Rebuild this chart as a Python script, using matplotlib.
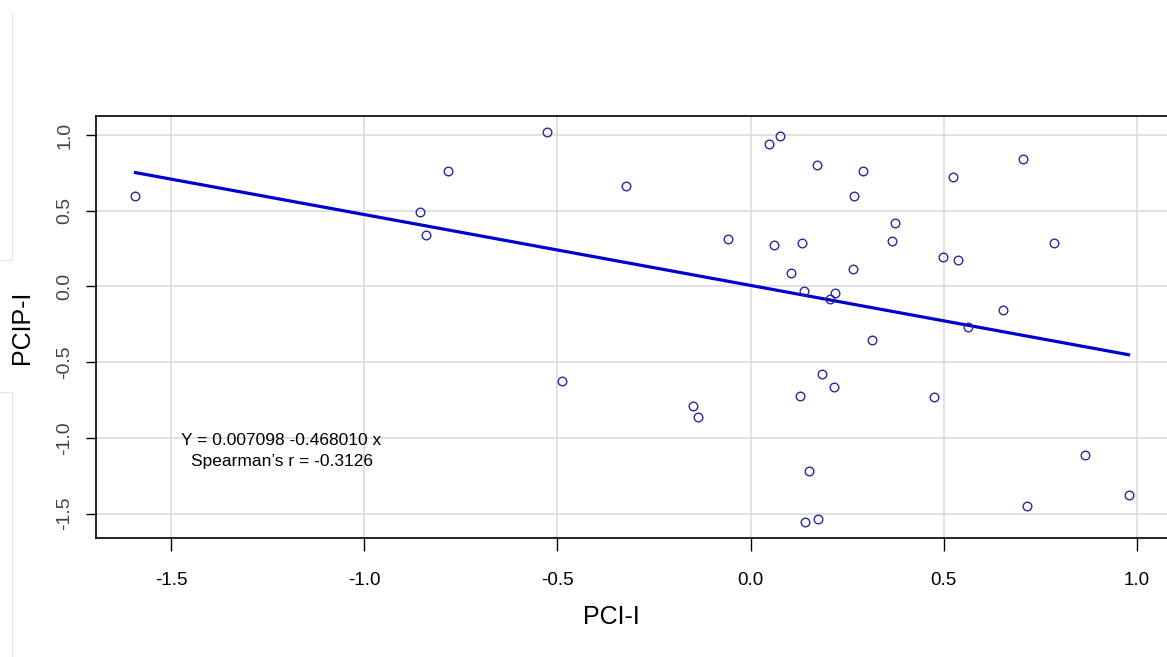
import matplotlib
matplotlib.use("Agg")
import matplotlib.pyplot as plt
from matplotlib.lines import Line2D
import numpy as np

# ---- data ----
pci_i = [-1.592, -0.528, -0.782, -0.855, -0.839, -0.323, -0.058, -0.487, -0.149, -0.137,
         0.048, 0.061, 0.076, 0.172, 0.291, 0.267, 0.373, 0.367, 0.133, 0.105,
         0.264, 0.497, 0.536, 0.523, 0.704, 0.785, 0.139, 0.218, 0.206, 0.652,
         0.562, 0.313, 0.185, 0.217, 0.128, 0.474, 0.152, 0.141, 0.174, 0.864,
         0.714, 0.978]
pcip_i = [0.596, 1.018, 0.765, 0.492, 0.342, 0.666, 0.316, -0.624, -0.789, -0.860,
          0.941, 0.272, 0.996, 0.800, 0.765, 0.598, 0.421, 0.298, 0.289, 0.089,
          0.116, 0.193, 0.175, 0.721, 0.844, 0.289, -0.032, -0.041, -0.083, -0.157,
          -0.267, -0.351, -0.580, -0.666, -0.721, -0.728, -1.221, -1.556, -1.538, -1.115,
          -1.450, -1.379]
intercept = 0.007098
slope = -0.468010
spearman_r = -0.3126
x_ticks = [-1.5, -1.0, -0.5, 0.0, 0.5, 1.0]
y_ticks = [-1.5, -1.0, -0.5, 0.0, 0.5, 1.0]
x_label = "PCI-I"
y_label = "PCIP-I"

x = np.array(pci_i)
y = np.array(pcip_i)

fig = plt.figure(figsize=(11.67, 6.57), dpi=100)
ax = fig.add_axes([0.082, 0.1816, 0.918, 0.6423])

ax.set_xlim(-1.695, 1.0775)
ax.set_ylim(-1.659, 1.128)

ax.grid(True, color="#d9d9d9", linewidth=1.1, zorder=0)
ax.set_axisbelow(True)

ax.plot(x, y, linestyle="none", marker="o", markersize=6.2,
        markerfacecolor="none", markeredgecolor="#2a2a96", markeredgewidth=1.0, zorder=3)

xs = np.array([x.min(), x.max()])
ax.plot(xs, intercept + slope * xs, color="#0000cc", linewidth=2.3, zorder=2)

ax.text(-1.214, -1.014, f"Y = {intercept:.6f} {slope:.6f} x", ha="center", va="center",
        fontsize=12.5, family=["Liberation Sans", "DejaVu Sans"], color="black")
ax.text(-1.214, -1.157, f"Spearman\u2019s r = {spearman_r:.4f}", ha="center", va="center",
        fontsize=12.5, family=["Liberation Sans", "DejaVu Sans"], color="black")

ax.set_xticks(x_ticks)
ax.set_yticks(y_ticks)
ax.set_xticklabels([f"{t:.1f}" for t in x_ticks],
                   family=["Liberation Sans Narrow", "Liberation Sans", "DejaVu Sans"], fontsize=13.5)
ax.set_yticklabels([f"{t:.1f}" for t in y_ticks], rotation=90, va="center",
                   family=["Liberation Sans", "DejaVu Sans"], fontsize=14, color="#444444")
ax.tick_params(axis="x", direction="out", length=9, width=1.0, pad=16, colors="black")
ax.tick_params(axis="y", direction="out", length=7, width=1.0, pad=9)
ax.tick_params(axis="y", labelcolor="#444444")

for s in ["left", "top", "bottom"]:
    ax.spines[s].set_color("black")
    ax.spines[s].set_linewidth(1.2)
ax.spines["right"].set_visible(False)

fig.text(611 / 1167, 1 - 617 / 657, x_label, ha="center", va="center",
         fontsize=18, family=["Liberation Sans", "DejaVu Sans"])
fig.text(22 / 1167, 1 - 327 / 657, y_label, ha="center", va="center", rotation=90,
         fontsize=18, family=["Liberation Sans", "DejaVu Sans"])

# faint frame lines from the original screenshot
W, H = 1167, 657
lc = "#e6e6e6"
fig.add_artist(Line2D([12 / W, 12 / W], [1 - 12 / H, 1 - 260 / H], color=lc, lw=0.8, transform=fig.transFigure))
fig.add_artist(Line2D([0, 12 / W], [1 - 260 / H, 1 - 260 / H], color=lc, lw=0.8, transform=fig.transFigure))
fig.add_artist(Line2D([0, 12 / W], [1 - 392 / H, 1 - 392 / H], color=lc, lw=0.8, transform=fig.transFigure))
fig.add_artist(Line2D([12 / W, 12 / W], [1 - 392 / H, 0], color=lc, lw=0.8, transform=fig.transFigure))

fig.savefig("out.png", dpi=100)
